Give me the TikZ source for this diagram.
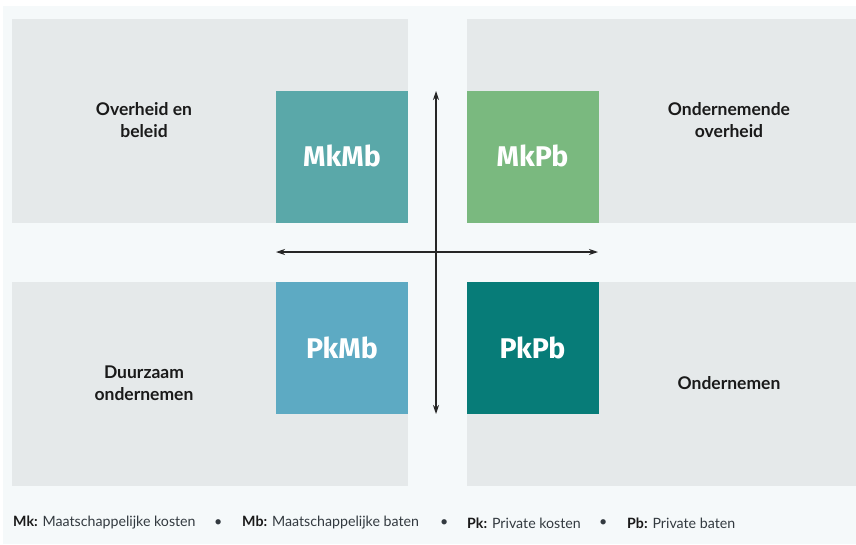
\documentclass[tikz,border=0pt]{standalone}
\usepackage{fontspec}
\setmainfont{Lato}
\newfontfamily\boxfont{Fira Sans}
\usetikzlibrary{arrows.meta}
\definecolor{bgc}{HTML}{F5F9FA}
\definecolor{panelc}{HTML}{E5E9EA}
\definecolor{cMkMb}{HTML}{5AA8A9}
\definecolor{cMkPb}{HTML}{7AB97F}
\definecolor{cPkMb}{HTML}{5DAAC3}
\definecolor{cPkPb}{HTML}{077C78}
\definecolor{txtc}{HTML}{1A1A1A}
\definecolor{legc}{HTML}{333A40}
\tikzset{
  panel/.style={fill=panelc, draw=none},
  quad/.style={minimum width=132pt, minimum height=132pt, inner sep=0pt, draw=none, text=white, font=\boxfont\bfseries\fontsize{28.5}{32}\selectfont},
  sidelabel/.style={align=center, text=txtc, font=\bfseries\fontsize{17.5}{22}\selectfont},
  axis/.style={draw=black!85, line width=1.1pt, {Stealth[length=9pt,width=6pt]}-{Stealth[length=9pt,width=6pt]}},
  legend/.style={anchor=west, inner sep=0pt, text=legc, font=\fontsize{14.2}{16}\selectfont}
}
\begin{document}
\begin{tikzpicture}[x=1pt,y=-1pt]
\useasboundingbox (0,0) rectangle (856,544);
\fill[white] (0,0) rectangle (856,544);
\fill[bgc] (3,6) rectangle (856,544);
% panels
\fill[panel] (12,19) rectangle (408,223);
\fill[panel] (467,19) rectangle (856,223);
\fill[panel] (12,282) rectangle (408,486);
\fill[panel] (467,282) rectangle (856,486);
% quadrants
\node[quad, fill=cMkMb] (mkmb) at (342,157) {\raisebox{2pt}{MkMb}};
\node[quad, fill=cMkPb] (mkpb) at (532.5,157) {\raisebox{2pt}{MkPb}};
\node[quad, fill=cPkMb] (pkmb) at (342,348) {\raisebox{1.5pt}{PkMb}};
\node[quad, fill=cPkPb] (pkpb) at (532.5,348) {\raisebox{1.5pt}{PkPb}};
% axes
\coordinate (top) at (436,91);
\coordinate (bot) at (436,414);
\coordinate (lft) at (276,252);
\coordinate (rgt) at (598,252);
\draw[axis] (bot) -- (top);
\draw[axis] (lft) -- (rgt);
% side labels
\node[sidelabel] (l1) at (144,120) {Overheid en\\beleid};
\node[sidelabel] (l2) at (729,120) {Ondernemende\\overheid};
\node[sidelabel] (l3) at (144,383) {Duurzaam\\ondernemen};
\node[sidelabel] (l4) at (729,383) {Ondernemen};
% legend
\node[legend] (g1) at (13,523) {\textbf{\color{txtc}Mk:} Maatschappelijke kosten};
\node[legend] (b1) at (214,523) {\textbullet};
\node[legend] (g2) at (242,523) {\textbf{\color{txtc}Mb:} Maatschappelijke baten};
\node[legend] (b2) at (440,523) {\textbullet};
\node[legend] (g3) at (467,523) {\textbf{\color{txtc}Pk:} Private kosten};
\node[legend] (b3) at (599,523) {\textbullet};
\node[legend] (g4) at (627,523) {\textbf{\color{txtc}Pb:} Private baten};
\end{tikzpicture}
\end{document}
